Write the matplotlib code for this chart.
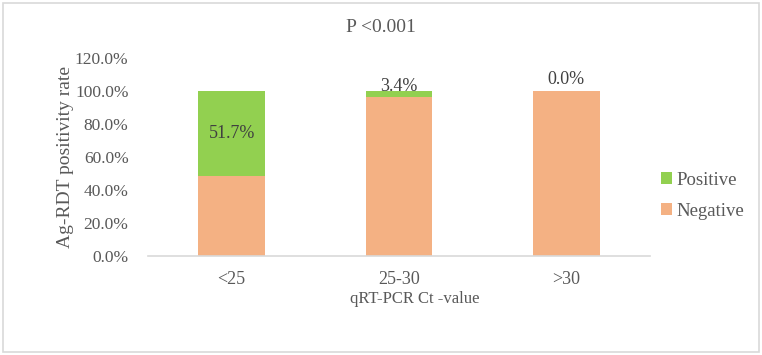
import matplotlib
matplotlib.use("Agg")
import matplotlib.pyplot as plt
from matplotlib.patches import Rectangle

categories = ["<25", "25-30", ">30"]
negative = [48.3, 96.6, 100.0]
positive = [51.7, 3.4, 0.0]
yticks = [0, 20, 40, 60, 80, 100, 120]

plt.rcParams['font.family'] = ['Liberation Serif', 'DejaVu Serif']
gray = '#595959'
green = '#92D050'
orange = '#F4B183'

fig = plt.figure(figsize=(7.62, 3.55), dpi=100)
ax = fig.add_axes([148/762, 1-256/355, (650-148)/762, (256-58)/355])

x = list(range(len(categories)))
ax.bar(x, negative, width=0.4, color=orange, label='Negative', zorder=2)
ax.bar(x, positive, width=0.4, bottom=negative, color=green, label='Positive', zorder=2)

ax.set_xlim(-0.5, 2.5)
ax.set_ylim(0, 120)
ax.set_yticks(yticks)
ax.set_yticklabels([f"{v:.1f}%" for v in yticks], fontsize=12.5, color=gray)
ax.set_xticks(x)
ax.set_xticklabels(categories, fontsize=13, color=gray)
ax.tick_params(axis='both', length=0)
ax.tick_params(axis='x', pad=11)
ax.tick_params(axis='y', pad=14)
for s in ['top', 'right', 'left']:
    ax.spines[s].set_visible(False)
ax.spines['bottom'].set_color('#d9d9d9')
ax.spines['bottom'].set_linewidth(1.2)

# data labels
ax.text(x[0], negative[0] + positive[0] / 2, f"{positive[0]:.1f}%", ha='center', va='center',
        fontsize=13, color='#404040')
ax.annotate(f"{positive[1]:.1f}%", (x[1], negative[1] + positive[1]), xytext=(0, -3),
            textcoords='offset points', ha='center', va='bottom', fontsize=13, color='#404040')
ax.annotate(f"{positive[2]:.1f}%", (x[2], negative[2] + positive[2]), xytext=(0, 2),
            textcoords='offset points', ha='center', va='bottom', fontsize=13, color='#404040')

fig.text(65/762, 1-157/355, "Ag-RDT positivity rate", rotation=90, ha='center', va='center',
         fontsize=14, color=gray)
fig.text(415/762, 1-299/355, "qRT-PCR Ct -value", ha='center', va='center', fontsize=12, color=gray)
fig.text(381/762, 1-27/355, "P <0.001", ha='center', va='center', fontsize=14, color=gray)

handles, labels = ax.get_legend_handles_labels()
leg = fig.legend(handles[::-1], labels[::-1], loc='center left', bbox_to_anchor=(644/762, 1-196/355),
                 frameon=False, fontsize=13.5, handlelength=0.6, handleheight=0.6,
                 handletextpad=0.25, labelspacing=0.75, labelcolor=gray)

fig.add_artist(Rectangle((3/762, 1-352/355), 756/762, 349/355, transform=fig.transFigure,
                         fill=False, edgecolor='#d9d9d9', linewidth=1.2))

fig.savefig("out.png", dpi=100)
